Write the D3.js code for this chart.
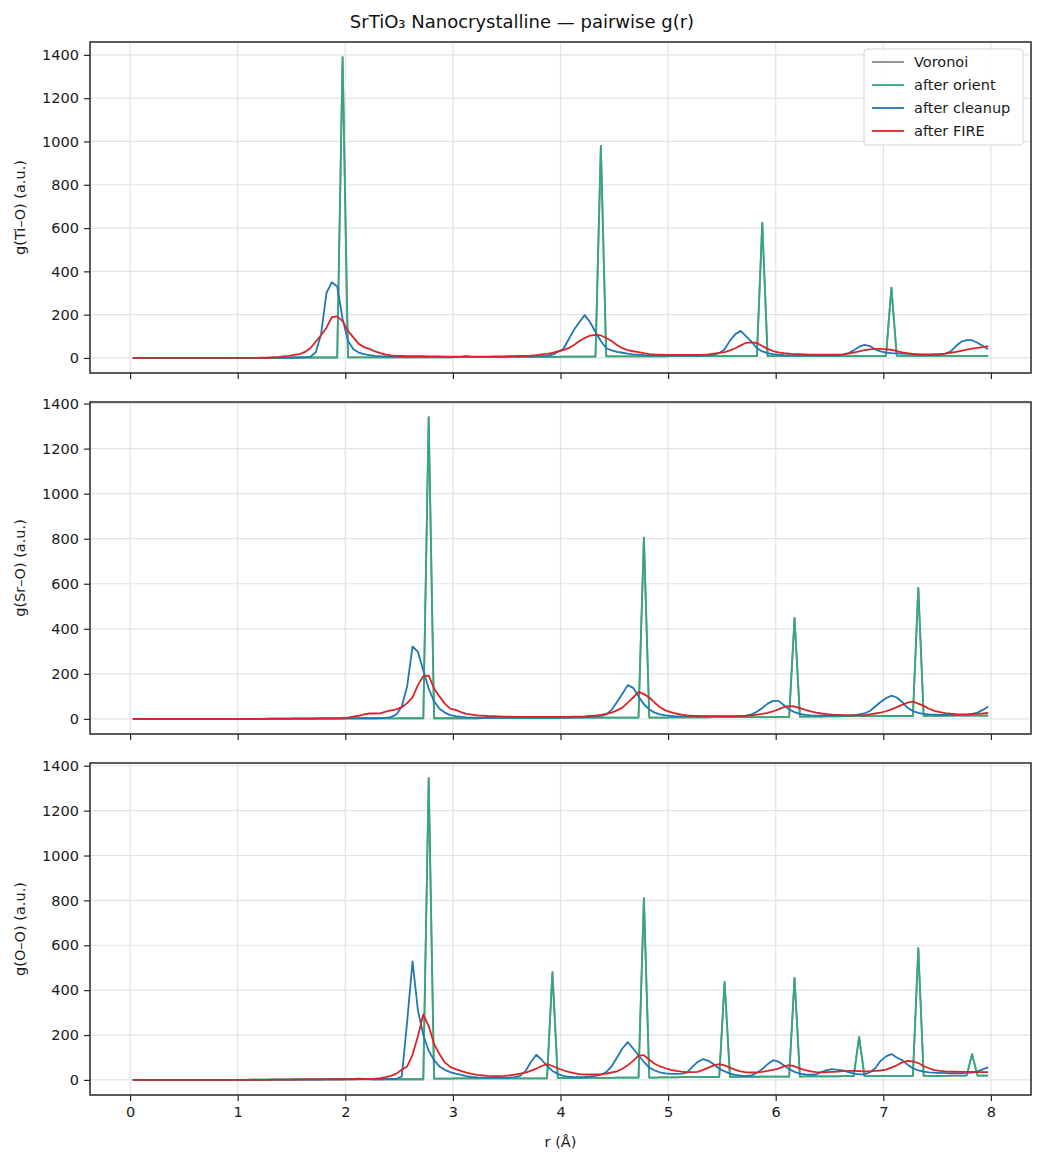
<!DOCTYPE html>
<html lang="en">
<head>
<meta charset="UTF-8">
<title>SrTiO3 Nanocrystalline - pairwise g(r)</title>
<script src="https://cdnjs.cloudflare.com/ajax/libs/d3/7.8.5/d3.min.js"></script>
<style>
  body { margin: 0; background: #fff; }
  svg { display: block; font-family: "DejaVu Sans", sans-serif; }
</style>
</head>
<body>
<svg id="chart" width="1044" height="1164"></svg>
<script>
// histogram bin centres, 0.05 A bins from 0 to 8 A
const rBins = d3.range(160).map(i => +(0.025 + 0.05 * i).toFixed(3));

const xTicks = [0, 1, 2, 3, 4, 5, 6, 7, 8];
const yTicks = [0, 200, 400, 600, 800, 1000, 1200, 1400];

const seriesNames = ["Voronoi", "after orient", "after cleanup", "after FIRE"];

// ---- Ti-O ----
const orientTiO = [
  0,0,0,0,0,0,0,0,0,0, 0,0,0,0,0,0,0,0,0,0,
  0,0,0,0,0,0,1,1,1,1, 2,2,2,2,2,2,2,2,2,1390,
  3,3,3,3,3,3,3,3,3,3, 3,3,3,3,3,3,3,3,3,3,
  4,4,9,4,4,4,4,4,4,5, 5,5,5,5,5,5,5,5,5,5,
  6,6,6,6,6,6,6,980,7,7, 7,7,7,7,7,7,7,7,7,7,
  8,8,8,8,8,8,8,8,8,8, 8,8,8,8,8,8,8,625,8,8,
  8,8,8,8,8,8,8,8,8,8, 8,8,8,8,8,8,8,8,8,8,
  9,325,10,10,10,10,10,10,10,10, 10,10,10,10,10,10,10,10,10,10
];
const voronoiTiO = orientTiO.slice();
const cleanupTiO = [
  0,0,0,0,0,0,0,0,0,0, 0,0,0,0,0,0,0,0,0,0,
  0,0,0,0,0,0,1,1,1,1, 1,2,3,6,25,110,300,350,330,180,
  80,40,25,18,13,10,8,7,6,5, 5,5,5,5,5,5,5,5,5,5,
  5,5,5,5,5,5,5,5,5,5, 6,6,6,7,7,8,8,10,15,28,
  40,85,130,165,198,165,120,78,45,35, 28,24,20,17,15,13,12,12,11,11,
  11,10,10,10,10,10,11,12,15,22, 40,80,110,125,100,75,45,30,22,18,
  15,13,12,12,12,12,12,12,12,12, 12,12,15,22,35,52,60,55,40,30,
  25,22,21,20,19,17,15,14,13,13, 15,20,30,55,75,82,82,70,55,40
];
const fireTiO = [
  0,0,0,0,0,0,0,0,0,0, 0,0,0,0,0,0,0,0,0,0,
  0,0,0,0,1,1,2,4,7,10, 14,18,28,45,75,105,140,188,192,170,
  125,95,65,50,42,30,22,15,12,10, 9,8,8,8,8,7,7,7,6,6,
  6,6,6,6,6,6,6,7,7,7, 8,8,9,10,11,13,16,19,23,30,
  36,45,60,78,92,103,107,104,92,78, 60,45,36,31,27,22,18,16,15,14,
  14,14,14,14,14,14,15,17,20,23, 27,35,45,58,70,72,69,55,42,32,
  26,22,20,18,17,16,15,15,15,15, 15,15,17,20,25,30,36,40,42,42,
  40,38,32,26,22,19,17,16,16,17, 18,20,24,28,33,38,43,47,50,55
];

// ---- Sr-O ----
const orientSrO = [
  0,0,0,0,0,0,0,0,0,0, 0,0,0,0,0,0,0,0,0,0,
  0,0,0,0,0,0,0,0,0,0, 1,1,1,1,1,1,1,1,1,1,
  2,2,2,2,2,2,2,2,2,2, 3,3,3,3,3,1340,3,3,3,3,
  3,3,3,3,3,4,4,4,4,4, 5,5,5,5,5,5,5,5,5,5,
  6,6,6,6,6,6,6,6,6,6, 6,6,6,6,6,805,6,6,6,6,
  7,7,7,7,7,7,7,7,8,8, 8,8,8,8,8,8,8,8,8,8,
  9,9,9,448,10,10,10,10,10,11, 11,11,12,12,12,12,12,12,12,12,
  13,13,13,13,13,13,582,14,14,14, 14,14,15,15,15,15,15,15,15,15
];
const voronoiSrO = orientSrO.slice();
const cleanupSrO = [
  0,0,0,0,0,0,0,0,0,0, 0,0,0,0,0,0,0,0,0,0,
  0,0,0,0,0,0,1,1,1,1, 1,1,1,1,1,2,2,2,2,2,
  2,2,2,3,3,3,4,5,8,20, 55,145,322,298,215,135,78,45,28,17,
  12,9,7,6,6,6,6,6,6,6, 6,6,6,6,6,6,6,6,6,6,
  6,6,7,7,8,9,10,13,20,40, 75,112,150,138,100,65,42,28,20,16,
  13,11,11,11,11,11,11,11,11,11, 11,11,11,12,15,20,32,48,68,80,
  80,62,42,30,22,18,16,15,15,15, 15,15,15,15,17,20,24,35,55,75,
  92,103,95,75,50,35,27,22,20,19, 18,18,18,18,18,19,22,28,40,55
];
const fireSrO = [
  0,0,0,0,0,0,0,0,0,0, 0,0,0,0,0,0,0,0,0,0,
  0,0,0,0,0,1,1,1,1,1, 1,1,1,1,2,2,2,2,3,4,
  6,10,14,20,24,24,25,32,38,42, 52,70,96,150,190,192,135,100,68,46,
  40,30,22,19,16,15,13,12,11,10, 10,9,9,9,9,9,9,9,9,9,
  9,9,10,10,11,13,15,18,22,28, 38,50,72,95,120,110,95,72,52,38,
  30,24,19,16,14,13,12,12,12,12, 12,12,12,13,14,16,19,22,27,33,
  42,52,57,55,48,40,33,28,24,21, 19,18,17,16,16,16,16,20,24,28,
  34,42,52,62,72,77,68,58,45,36, 30,26,23,21,20,20,21,22,24,27
];

// ---- O-O ----
const orientOO = [
  0,0,0,0,0,0,0,0,0,0, 0,0,0,0,0,0,0,0,0,0,
  0,0,1,1,1,1,1,1,1,1, 2,2,2,2,2,2,3,3,3,3,
  4,5,6,5,4,3,3,3,3,3, 3,3,3,3,3,1345,6,6,6,6,
  7,7,7,7,7,7,7,7,7,7, 7,7,7,7,7,7,7,7,480,8,
  8,8,8,8,9,9,9,9,9,9, 10,10,10,10,10,810,10,10,11,11,
  11,11,12,12,12,12,13,13,13,13, 437,14,14,14,14,14,14,15,15,15,
  15,15,15,455,15,16,16,16,16,16, 16,16,17,17,17,192,17,17,17,18,
  18,18,18,18,18,18,587,18,18,18, 18,18,19,19,19,19,115,19,19,19
];
const voronoiOO = orientOO.slice();
const cleanupOO = [
  0,0,0,0,0,0,0,0,0,0, 0,0,0,0,0,0,0,0,0,0,
  0,0,0,0,0,0,1,1,1,1, 1,1,1,1,1,1,2,2,2,2,
  2,2,2,2,3,3,3,4,4,5, 15,260,528,310,200,130,88,60,45,35,
  28,22,17,13,11,10,10,10,10,10, 10,12,18,40,80,112,90,62,40,27,
  18,14,12,12,13,15,18,22,35,60, 100,140,168,140,110,80,55,42,34,29,
  27,27,28,33,58,80,93,85,70,50, 38,28,22,19,18,20,32,48,70,88,
  82,65,48,36,28,25,23,24,35,44, 48,45,42,35,28,25,25,34,52,85,
  105,115,100,88,68,52,42,37,34,32, 31,30,30,30,30,31,33,38,47,57
];
const fireOO = [
  0,0,0,0,0,0,0,0,0,0, 0,0,0,0,0,0,0,0,0,0,
  0,0,0,0,0,0,1,1,1,1, 1,1,2,2,2,2,2,3,3,3,
  3,3,4,4,5,6,8,12,18,28, 45,60,112,195,292,240,160,115,78,58,
  48,40,32,27,22,20,18,17,17,18, 20,24,28,32,40,50,62,70,62,52,
  43,36,30,26,24,24,25,26,28,33, 38,50,65,85,108,110,90,72,60,52,
  45,40,37,35,35,36,45,55,65,70, 65,55,45,38,34,33,34,36,40,45,
  50,60,66,60,50,44,38,35,34,35, 36,37,39,40,40,39,38,38,40,42,
  46,55,65,78,85,82,75,62,52,44, 40,38,37,37,36,36,36,35,35,35
];

const colors = ["#8c8c8c", "#35a77a", "#1f77b4", "#d62728"];

const panels = [
  { label: "g(Ti\u2013O) (a.u.)", series: [voronoiTiO, orientTiO, cleanupTiO, fireTiO], top: 42, bottom: 373 },
  { label: "g(Sr\u2013O) (a.u.)", series: [voronoiSrO, orientSrO, cleanupSrO, fireSrO], top: 402, bottom: 734 },
  { label: "g(O\u2013O) (a.u.)", series: [voronoiOO, orientOO, cleanupOO, fireOO], top: 763, bottom: 1095 }
];

const left = 90, right = 1031;
const fs = 14.5;
const svg = d3.select("#chart");

svg.append("text")
    .attr("x", 522).attr("y", 28)
    .attr("text-anchor", "middle")
    .attr("font-size", 18)
    .attr("fill", "#111")
    .text("SrTiO\u2083 Nanocrystalline \u2014 pairwise g(r)");

// matplotlib-style 5% margins
const rExt = d3.extent(rBins);
const rPad = (rExt[1] - rExt[0]) * 0.05;
const x = d3.scaleLinear().domain([rExt[0] - rPad, rExt[1] + rPad]).range([left, right]);

panels.forEach((p, pi) => {
    const all = p.series.flat();
    const lo = d3.min(all), hi = d3.max(all);
    const pad = (hi - lo) * 0.05;
    const y = d3.scaleLinear().domain([lo - pad, hi + pad]).range([p.bottom, p.top]);

    const g = svg.append("g");

    // grid
    g.append("g").selectAll("line").data(xTicks).enter().append("line")
        .attr("x1", d => x(d)).attr("x2", d => x(d))
        .attr("y1", p.top).attr("y2", p.bottom)
        .attr("stroke", "#e3e3e3").attr("stroke-width", 1.2);
    g.append("g").selectAll("line").data(yTicks).enter().append("line")
        .attr("x1", left).attr("x2", right)
        .attr("y1", d => y(d)).attr("y2", d => y(d))
        .attr("stroke", "#e3e3e3").attr("stroke-width", 1.2);

    // curves
    const line = d3.line().x((d, i) => x(rBins[i])).y(d => y(d));
    p.series.forEach((s, si) => {
        g.append("path")
            .datum(s)
            .attr("d", line)
            .attr("fill", "none")
            .attr("stroke", colors[si])
            .attr("stroke-width", 1.8)
            .attr("stroke-linejoin", "round");
    });

    // axes
    const yAxis = d3.axisLeft(y).tickValues(yTicks).tickFormat(d3.format("d")).tickSize(6).tickPadding(5);
    const ya = g.append("g").attr("transform", `translate(${left},0)`).call(yAxis);
    const xAxis = d3.axisBottom(x).tickValues(xTicks).tickSize(6).tickPadding(6);
    if (pi < panels.length - 1) xAxis.tickFormat("");
    const xa = g.append("g").attr("transform", `translate(0,${p.bottom})`).call(xAxis);
    [ya, xa].forEach(a => {
        a.select(".domain").remove();
        a.selectAll(".tick line").attr("stroke", "#262626").attr("stroke-width", 1.2);
        a.selectAll(".tick text").attr("font-size", fs).attr("fill", "#1a1a1a")
            .attr("font-family", "DejaVu Sans, sans-serif");
    });

    // frame
    g.append("rect")
        .attr("x", left).attr("y", p.top)
        .attr("width", right - left).attr("height", p.bottom - p.top)
        .attr("fill", "none").attr("stroke", "#262626").attr("stroke-width", 1.5);

    // y label
    g.append("text")
        .attr("transform", `translate(25,${(p.top + p.bottom) / 2}) rotate(-90)`)
        .attr("text-anchor", "middle")
        .attr("font-size", fs)
        .attr("fill", "#1a1a1a")
        .text(p.label);

    // legend in the first panel
    if (pi === 0) {
        const lg = g.append("g").attr("transform", "translate(864,49)");
        lg.append("rect")
            .attr("width", 159).attr("height", 96).attr("rx", 3)
            .attr("fill", "#fff").attr("fill-opacity", 0.85)
            .attr("stroke", "#d4d4d4").attr("stroke-width", 1);
        seriesNames.forEach((name, k) => {
            const yy = 13 + k * 23;
            lg.append("line")
                .attr("x1", 8).attr("x2", 40)
                .attr("y1", yy).attr("y2", yy)
                .attr("stroke", colors[k]).attr("stroke-width", 1.8);
            lg.append("text")
                .attr("x", 50).attr("y", yy).attr("dy", "0.35em")
                .attr("font-size", fs).attr("fill", "#1a1a1a")
                .text(name);
        });
    }
});

svg.append("text")
    .attr("x", (left + right) / 2).attr("y", 1147)
    .attr("text-anchor", "middle")
    .attr("font-size", fs)
    .attr("fill", "#1a1a1a")
    .text("r (\u00c5)");
</script>
</body>
</html>
